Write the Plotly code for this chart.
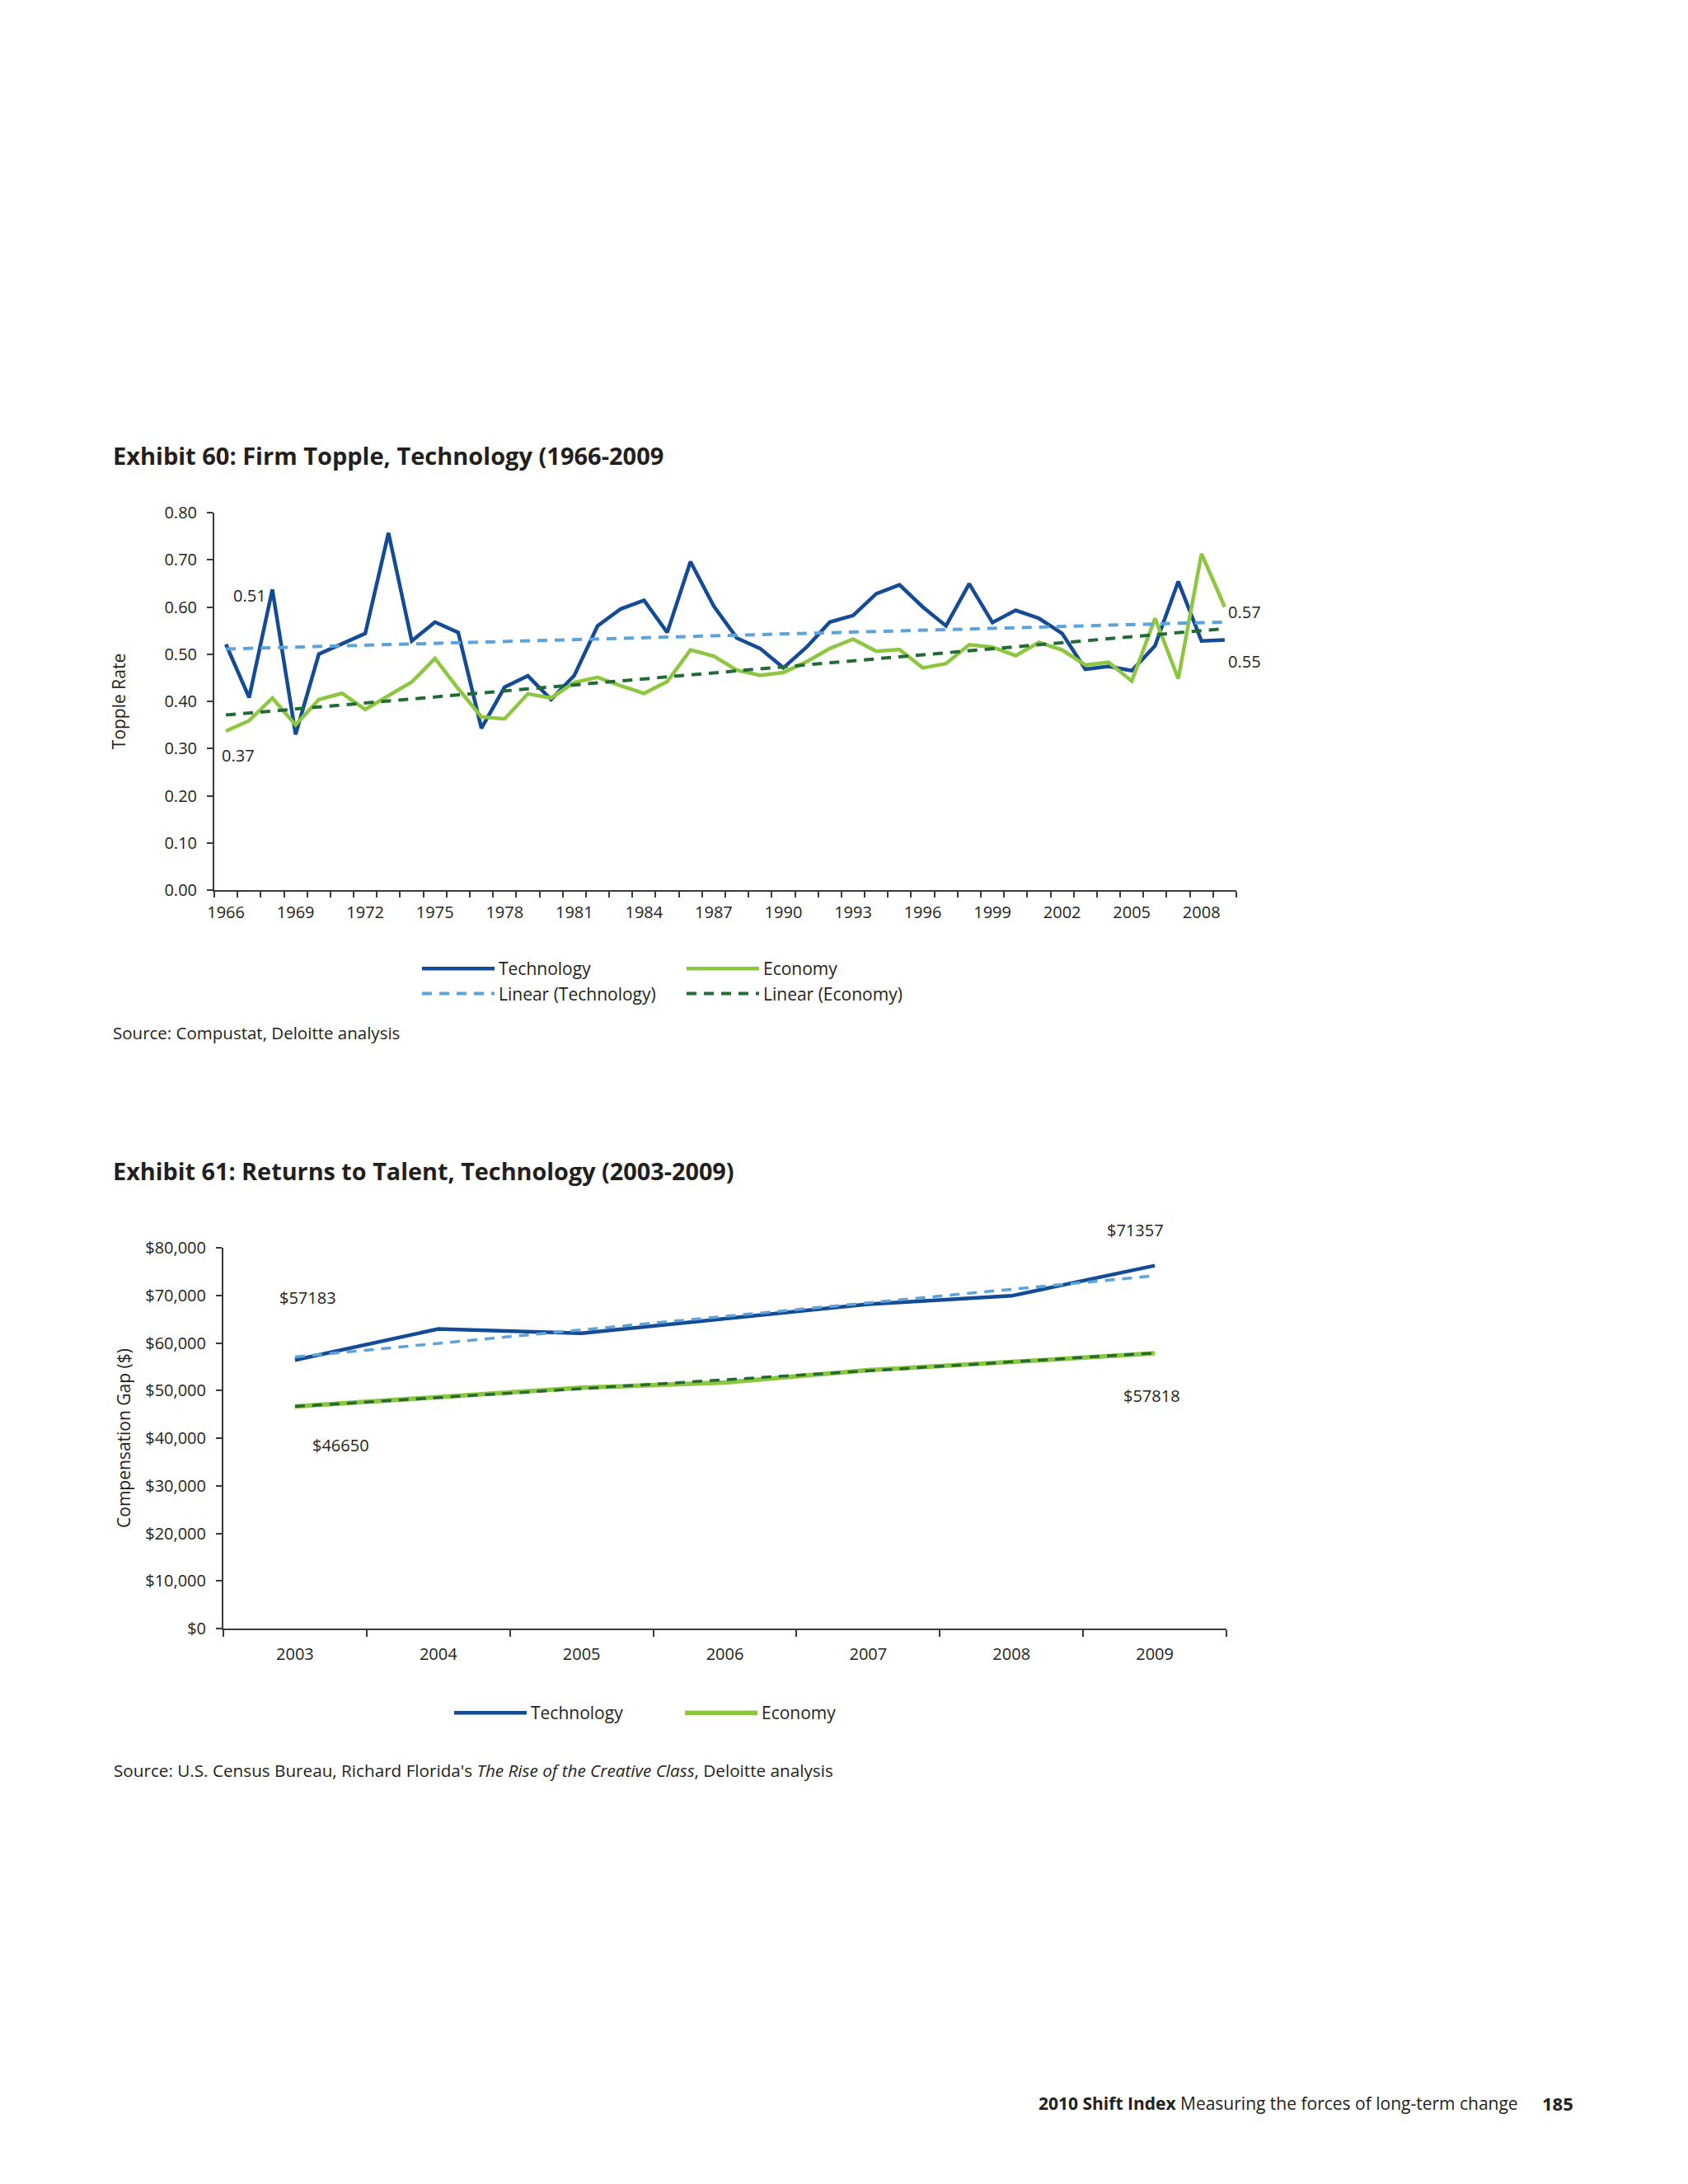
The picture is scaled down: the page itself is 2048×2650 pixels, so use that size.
import plotly.graph_objects as go

W, H = 2048, 2650

# ---------------- Exhibit 60 data ----------------
years = [1966, 1967, 1968, 1969, 1970, 1971, 1972, 1973, 1974, 1975, 1976,
         1977, 1978, 1979, 1980, 1981, 1982, 1983, 1984, 1985, 1986, 1987,
         1988, 1989, 1990, 1991, 1992, 1993, 1994, 1995, 1996, 1997, 1998,
         1999, 2000, 2001, 2002, 2003, 2004, 2005, 2006, 2007, 2008, 2009]
tech_topple = [0.521, 0.408, 0.637, 0.330, 0.500, 0.521, 0.544, 0.757, 0.528,
               0.568, 0.546, 0.343, 0.430, 0.454, 0.404, 0.455, 0.560, 0.596,
               0.614, 0.546, 0.696, 0.602, 0.534, 0.512, 0.471, 0.515, 0.568,
               0.582, 0.628, 0.647, 0.600, 0.560, 0.649, 0.567, 0.593, 0.576,
               0.544, 0.468, 0.474, 0.465, 0.518, 0.654, 0.528, 0.530]
econ_topple = [0.337, 0.359, 0.407, 0.350, 0.404, 0.417, 0.383, 0.413, 0.441,
               0.491, 0.427, 0.367, 0.363, 0.416, 0.407, 0.440, 0.451, 0.433,
               0.417, 0.442, 0.509, 0.496, 0.466, 0.455, 0.461, 0.484, 0.512,
               0.532, 0.506, 0.510, 0.471, 0.480, 0.520, 0.515, 0.497, 0.525,
               0.509, 0.477, 0.483, 0.443, 0.576, 0.448, 0.713, 0.600]
trend_years = [1966, 2009]
tech_topple_trend = [0.511, 0.568]
econ_topple_trend = [0.371, 0.554]
topple_tick_years = [1966, 1969, 1972, 1975, 1978, 1981, 1984, 1987, 1990,
                     1993, 1996, 1999, 2002, 2005, 2008]

# ---------------- Exhibit 61 data ----------------
gap_years = [2003, 2004, 2005, 2006, 2007, 2008, 2009]
tech_gap = [56400, 62950, 62050, 65150, 68150, 69900, 76250]
econ_gap = [46650, 48700, 50600, 51700, 54300, 56000, 57818]
gap_trend_years = [2003, 2009]
tech_gap_trend = [57070, 74120]
econ_gap_trend = [46650, 57900]
gap_labels = ["$57183", "$46650", "$71357", "$57818"]

# ---------------- styling ----------------
FONT = "Open Sans"
TXT = "#231F20"
AX = "#3A3A3A"
C_TECH = "#144B96"
C_ECON = "#8DC63F"
C_TECH_LIN = "#5BA4DB"
C_ECON_LIN = "#236B35"
DASH = "12px,9px"


def px(x):
    return x / W


def py(y):
    return 1 - y / H


fig = go.Figure()

# Exhibit 60 traces
fig.add_trace(go.Scatter(x=years, y=tech_topple, mode="lines", name="Technology",
                         line=dict(color=C_TECH, width=4.5), legend="legend",
                         xaxis="x", yaxis="y"))
fig.add_trace(go.Scatter(x=years, y=econ_topple, mode="lines", name="Economy",
                         line=dict(color=C_ECON, width=4.5), legend="legend2",
                         xaxis="x", yaxis="y"))
fig.add_trace(go.Scatter(x=trend_years, y=tech_topple_trend, mode="lines",
                         name="Linear (Technology)",
                         line=dict(color=C_TECH_LIN, width=4, dash=DASH),
                         legend="legend", xaxis="x", yaxis="y"))
fig.add_trace(go.Scatter(x=trend_years, y=econ_topple_trend, mode="lines",
                         name="Linear (Economy)",
                         line=dict(color=C_ECON_LIN, width=4, dash=DASH),
                         legend="legend2", xaxis="x", yaxis="y"))

# Exhibit 61 traces
fig.add_trace(go.Scatter(x=gap_years, y=tech_gap, mode="lines", name="Technology",
                         line=dict(color=C_TECH, width=4.5), legend="legend3",
                         xaxis="x2", yaxis="y2"))
fig.add_trace(go.Scatter(x=gap_trend_years, y=tech_gap_trend, mode="lines",
                         name="Linear (Technology)", showlegend=False,
                         line=dict(color=C_TECH_LIN, width=3.5, dash=DASH),
                         xaxis="x2", yaxis="y2"))
fig.add_trace(go.Scatter(x=gap_years, y=econ_gap, mode="lines", name="Economy",
                         line=dict(color=C_ECON, width=5.5), legend="legend4",
                         xaxis="x2", yaxis="y2"))
fig.add_trace(go.Scatter(x=gap_trend_years, y=econ_gap_trend, mode="lines",
                         name="Linear (Economy)", showlegend=False,
                         line=dict(color=C_ECON_LIN, width=3.5, dash=DASH),
                         xaxis="x2", yaxis="y2"))

common_axis = dict(showgrid=False, zeroline=False, showline=True, linecolor=AX,
                   linewidth=2, tickfont=dict(family=FONT, size=20, color=TXT),
                   automargin=False)

fig.update_layout(
    width=W, height=H, autosize=False,
    margin=dict(l=0, r=0, t=0, b=0),
    paper_bgcolor="white", plot_bgcolor="white",
    font=dict(family=FONT, color=TXT, size=20),
    xaxis=dict(domain=[px(260), px(1500)], anchor="y",
               range=[years[0] - 0.5, years[-1] + 0.5],
               tickmode="array", tickvals=topple_tick_years,
               ticktext=[str(v) for v in topple_tick_years],
               ticks="", ticklabelstandoff=8,
               minor=dict(tickmode="array",
                          tickvals=[v - 0.5 for v in years] + [years[-1] + 0.5],
                          ticks="outside", ticklen=7, tickwidth=1.5,
                          tickcolor=AX, showgrid=False),
               **common_axis),
    yaxis=dict(domain=[py(1080), py(622)], anchor="x", range=[0, 0.8],
               tick0=0, dtick=0.1, tickformat=".2f",
               ticks="outside", ticklen=7, tickwidth=1.5, tickcolor=AX,
               ticklabelstandoff=8,
               title=dict(text="Topple Rate", standoff=41,
                          font=dict(family=FONT, size=21, color=TXT)),
               **common_axis),
    xaxis2=dict(domain=[px(271), px(1488)], anchor="y2",
                range=[gap_years[0] - 0.5, gap_years[-1] + 0.5],
                tickmode="array", tickvals=gap_years,
                ticktext=[str(v) for v in gap_years],
                ticks="", ticklabelstandoff=12,
                minor=dict(tickmode="array",
                           tickvals=[v - 0.5 for v in gap_years] + [gap_years[-1] + 0.5],
                           ticks="outside", ticklen=8, tickwidth=1.5,
                           tickcolor=AX, showgrid=False),
                **common_axis),
    yaxis2=dict(domain=[py(1976), py(1514)], anchor="x2", range=[0, 80000],
                tick0=0, dtick=10000, tickformat=",.0f", tickprefix="$",
                ticks="outside", ticklen=7, tickwidth=1.5, tickcolor=AX,
                ticklabelstandoff=8,
                title=dict(text="Compensation Gap ($)", standoff=12,
                           font=dict(family=FONT, size=21, color=TXT)),
                **common_axis),
)

leg_common = dict(orientation="v", bgcolor="rgba(0,0,0,0)", borderwidth=0,
                  itemwidth=88, font=dict(family=FONT, size=21, color=TXT),
                  xanchor="left", yanchor="top", tracegroupgap=0,
                  itemclick=False, itemdoubleclick=False)
fig.update_layout(
    legend=dict(x=px(507), y=py(1155), **leg_common),
    legend2=dict(x=px(828), y=py(1155), **leg_common),
    legend3=dict(x=px(546), y=py(2058), **leg_common),
    legend4=dict(x=px(826), y=py(2058), **leg_common),
)

ann = []
# Titles
ann.append(dict(text="<b>Exhibit 60: Firm Topple, Technology (1966-2009</b>",
                x=px(135), y=py(553), xref="paper", yref="paper",
                xanchor="left", yanchor="middle", showarrow=False,
                font=dict(family=FONT, size=29, color=TXT)))
ann.append(dict(text="<b>Exhibit 61: Returns to Talent, Technology (2003-2009)</b>",
                x=px(135), y=py(1420), xref="paper", yref="paper",
                xanchor="left", yanchor="middle", showarrow=False,
                font=dict(family=FONT, size=28.8, color=TXT)))
# Sources
ann.append(dict(text="Source: Compustat, Deloitte analysis",
                x=px(135), y=py(1253), xref="paper", yref="paper",
                xanchor="left", yanchor="middle", showarrow=False,
                font=dict(family=FONT, size=20.5, color=TXT)))
ann.append(dict(text="Source: U.S. Census Bureau, Richard Florida's <i>The Rise of the Creative Class</i>, Deloitte analysis",
                x=px(136), y=py(2148), xref="paper", yref="paper",
                xanchor="left", yanchor="middle", showarrow=False,
                font=dict(family=FONT, size=20.7, color=TXT)))
# Footer
ann.append(dict(text="<b>2010 Shift Index</b> Measuring the forces of long-term change",
                x=px(1844), y=py(2552), xref="paper", yref="paper",
                xanchor="right", yanchor="middle", showarrow=False,
                font=dict(family=FONT, size=21, color=TXT)))
ann.append(dict(text="<b>185</b>",
                x=px(1869), y=py(2552), xref="paper", yref="paper",
                xanchor="left", yanchor="middle", showarrow=False,
                font=dict(family=FONT, size=22, color=TXT)))

# Exhibit 60 trend value labels
lab_font = dict(family=FONT, size=20, color=TXT)
ann.append(dict(text=f"{tech_topple_trend[0]:.2f}", x=1967.03, y=0.624,
                xref="x", yref="y", showarrow=False, font=lab_font))
ann.append(dict(text=f"{econ_topple_trend[0]:.2f}", x=1966.53, y=0.285,
                xref="x", yref="y", showarrow=False, font=lab_font))
ann.append(dict(text=f"{tech_topple_trend[1]:.2f}", x=trend_years[1], y=0.590,
                xref="x", yref="y", xshift=24, showarrow=False, font=lab_font))
ann.append(dict(text=f"{econ_topple_trend[1]:.2f}", x=trend_years[1], y=0.484,
                xref="x", yref="y", xshift=24, showarrow=False, font=lab_font))

# Exhibit 61 value labels
ann.append(dict(text=gap_labels[0], x=2003.09, y=69600, xref="x2", yref="y2",
                showarrow=False, font=lab_font))
ann.append(dict(text=gap_labels[1], x=2003.32, y=38450, xref="x2", yref="y2",
                showarrow=False, font=lab_font))
ann.append(dict(text=gap_labels[2], x=gap_years[-1], y=tech_gap[-1], xref="x2",
                yref="y2", xshift=-24, yshift=43, showarrow=False, font=lab_font))
ann.append(dict(text=gap_labels[3], x=2008.98, y=48850, xref="x2", yref="y2",
                showarrow=False, font=lab_font))

fig.update_layout(annotations=ann)

fig.write_html("out.html", config={"displayModeBar": False},
               post_script="document.body.style.margin='0px';")
